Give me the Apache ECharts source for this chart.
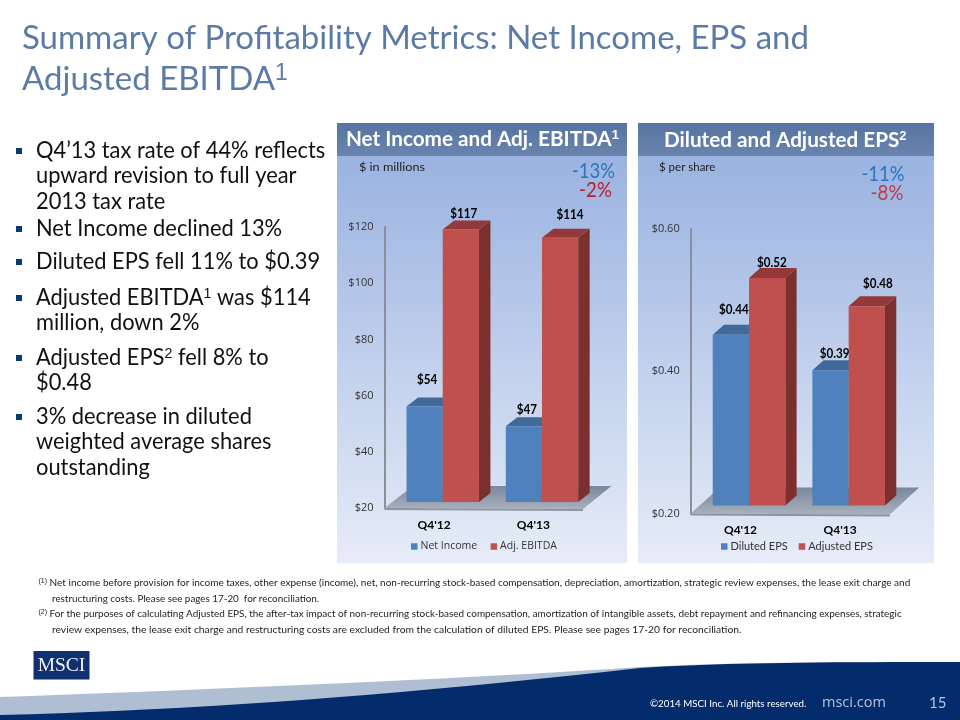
<!DOCTYPE html>
<html><head><meta charset="utf-8">
<style>html,body{margin:0;padding:0;background:#fff}#c{width:960px;height:720px}</style>
<script src="https://cdn.jsdelivr.net/npm/echarts@6/dist/echarts.min.js"></script>
</head><body><div id="c"></div>
<script>
// ---- data ----
const quarters = ["Q4'12", "Q4'13"];
const netIncome = [54, 47];
const adjEbitda = [117, 114];
const dilutedEps = [0.44, 0.39];
const adjustedEps = [0.52, 0.48];
const titleLines = ['Summary of Profitability Metrics: Net Income, EPS and', 'Adjusted EBITDA{s|1}'];
const bulletLines = [
  ['b', 151, 'Q4’13 tax rate of 44% reflects'], ['', 176, 'upward revision to full year'], ['', 202, '2013 tax rate'],
  ['b', 229, 'Net Income declined 13%'], ['b', 262, 'Diluted EPS fell 11% to $0.39'],
  ['b', 298, 'Adjusted EBITDA{s|1} was $114'], ['', 323, 'million, down 2%'],
  ['b', 358, 'Adjusted EPS{s|2} fell 8% to'], ['', 383, '$0.48'],
  ['b', 417, '3% decrease in diluted'], ['', 442, 'weighted average shares'], ['', 468, 'outstanding']
];
const footnotes = [
  [38.5, 583, 1, '{s|(1)} Net income before provision for income taxes, other expense (income), net, non-recurring stock-based compensation, depreciation, amortization, strategic review expenses, the lease exit charge and'],
  [52, 599, 0.985, 'restructuring costs. Please see pages 17-20  for reconciliation.'],
  [38.5, 614, 0.993, '{s|(2)} For the purposes of calculating Adjusted EPS, the after-tax impact of non-recurring stock-based compensation, amortization of intangible assets, debt repayment and refinancing expenses, strategic'],
  [52, 630, 1.03, 'review expenses, the lease exit charge and restructuring costs are excluded from the calculation of diluted EPS. Please see pages 17-20 for reconciliation.']
];
// ---- styles / layout ----
const BLUE = ['#4f81bd', '#3a6190', '#41699a'], RED = ['#c0504d', '#7c302e', '#94393a'];
const FONT = 'Lato';
const layouts = [
  {off: 8.6, w: 36.2, dx: 11.5, dy: -9, base: 6, fx: 28.5, fy: -22,
   labels: [[[2.5, -26], [3, -16]], [[3, -15], [10, -23]]]},
  {off: 8.5, w: 36.3, dx: 11.3, dy: -10, base: 8, fx: 29, fy: -26,
   labels: [[[3, -25], [4, -16]], [[4.6, -15], [11, -22]]]}
];
function barSeries(name, values, chart, colorSet, side, fmt) {
  const L = layouts[chart];
  return {
    type: 'custom', name, xAxisIndex: chart, yAxisIndex: chart,
    itemStyle: {color: colorSet[0]},
    data: values.map((v, i) => [i, v]), encode: {x: 0, y: 1},
    clip: false,
    renderItem(params, api) {
      const p = api.coord([api.value(0), api.value(1)]);
      const b = api.coord([api.value(0), chart === 0 ? 20 : 0.2]);
      const cs = params.coordSys;
      const x0 = p[0] + L.off + (side === 0 ? -L.w : 0), x1 = x0 + L.w;
      const yt = p[1] - L.base, yb = b[1] - L.base;
      const poly = (pts, fill) => ({type: 'polygon', shape: {points: pts}, style: {fill}});
      const kids = [];
      if (side === 0 && params.dataIndex === 0) {
        const g0 = b[1], lx = cs.x, rx = cs.x + cs.width;
        kids.push(poly([[lx, g0], [rx, g0 + 1], [rx + L.fx, g0 + L.fy], [lx + L.fx, g0 + L.fy]],
          new echarts.graphic.LinearGradient(0, 0, 0, 1, [{offset: 0, color: '#78889f'}, {offset: 1, color: '#aab0bb'}])));
        kids.push(poly([[lx, g0], [rx, g0 + 1], [rx, g0 + 3], [lx, g0 + 2]], '#8d93a0'));
      }
      kids.push(poly([[x1, yt], [x1 + L.dx, yt + L.dy], [x1 + L.dx, yb + L.dy], [x1, yb]], colorSet[1]));
      kids.push(poly([[x0, yt], [x0 + L.dx, yt + L.dy], [x1 + L.dx, yt + L.dy], [x1, yt]], colorSet[2]));
      kids.push({type: 'rect', shape: {x: x0, y: yt, width: L.w, height: yb - yt}, style: {fill: colorSet[0]}});
      const off = L.labels[side][params.dataIndex];
      kids.push({type: 'text', x: (x0 + x1) / 2 + off[0], y: yt + off[1], z2: 10, scaleX: 0.93,
        style: {text: fmt(api.value(1)), font: 'bold 12.5px ' + FONT, fill: '#000', textAlign: 'center', textVerticalAlign: 'middle'}});
      return {type: 'group', children: kids};
    }
  };
}
const T = (x, y, text, size, fill, extra) => Object.assign({
  type: 'text', x, y, z: 5,
  style: Object.assign({text, fontSize: size, fontFamily: FONT, fill, textAlign: 'left', textVerticalAlign: 'middle'}, (extra && extra.style) || {})
}, extra ? {scaleX: extra.scaleX || 1} : {});
const R = (x, y, w, h, fill) => ({type: 'rect', z: -10, shape: {x, y, width: w, height: h}, style: {fill}});
const panelFill = () => new echarts.graphic.LinearGradient(0, 0, 0, 1, [{offset: 0, color: '#94aedf'}, {offset: 1, color: '#e6ecf7'}]);
const headFill = () => new echarts.graphic.LinearGradient(0, 0, 0, 1, [{offset: 0, color: '#5674a2'}, {offset: 1, color: '#6a84ad'}]);
// decorative footer curves, sampled as cubic segments
function curve(segs) {
  const pts = [];
  segs.forEach(([a, b, c, d]) => {
    for (let t = 0; t <= 1.0001; t += 0.05) {
      const u = 1 - t;
      pts.push([0, 1].map(k => u*u*u*a[k] + 3*u*u*t*b[k] + 3*u*t*t*c[k] + t*t*t*d[k]));
    }
  });
  return pts.concat([[960, 720], [0, 720]]);
}
const gfx = [
  R(337, 123, 290, 440, panelFill()), R(638, 123, 296, 440, panelFill()),
  R(337, 123, 290, 33, headFill()), R(638, 123, 296, 33, headFill()),
  T(346, 139, 'Net Income and Adj. EBITDA{s|1}', 20.7, '#fff', {style: {fontWeight: 'bold', rich: {s: {fontSize: 13, fontWeight: 'bold', fill: '#fff', verticalAlign: 'top'}}}}),
  T(664, 140, 'Diluted and Adjusted EPS{s|2}', 20.7, '#fff', {style: {fontWeight: 'bold', rich: {s: {fontSize: 13, fontWeight: 'bold', fill: '#fff', verticalAlign: 'top'}}}}),
  T(359, 167, '$ in millions', 11.5, '#222', {scaleX: 1.1}), T(659, 167, '$ per share', 11.5, '#222'),
  T(593.5, 171, '-13%', 21, '#2a77bb', {scaleX: 0.88, style: {textAlign: 'center'}}), T(595.5, 190, '-2%', 21, '#b8212e', {scaleX: 0.89, style: {textAlign: 'center'}}),
  T(883, 174, '-11%', 21, '#2a77bb', {scaleX: 0.88, style: {textAlign: 'center'}}), T(887, 193, '-8%', 21, '#c03a45', {scaleX: 0.89, style: {textAlign: 'center'}}),
  // footer swoosh
  {type: 'polygon', z: -10, shape: {points: curve([[[0,697],[200,690],[480,678],[640,667]],[[640,667],[720,663],[800,662],[960,662]]])}, style: {fill: '#b0bed4'}},
  {type: 'polygon', z: -9, shape: {points: curve([[[0,715],[200,710],[400,695],[640,668]],[[640,668],[720,663],[800,662],[960,662]]])}, style: {fill: '#042c6c'}},
  R(33.5, 651, 56, 28.5, '#10316f'),
  T(61.5, 666, 'MSCI', 19.5, '#f2f4f8', {style: {fontFamily: 'Liberation Serif', textAlign: 'center'}}),
  T(650, 704, '©2014 MSCI Inc. All rights reserved.', 10, '#fff', {scaleX: 0.975}),
  T(822, 703, 'msci.com', 14.5, '#b6c4dc', {style: {fontFamily: 'Open Sans'}}),
  T(929, 703, '15', 15, '#b6c4dc')
];
titleLines.forEach((t, i) => gfx.push(T(22, 38 + i * 41, t, 33, '#5b7ba6', {style: {rich: {s: {fontSize: 23, fill: '#5b7ba6', verticalAlign: 'top'}}}})));
bulletLines.forEach(([b, y, t]) => {
  if (b) gfx.push({type: 'rect', z: 5, shape: {x: 16, y: y - 3, width: 6, height: 6}, style: {fill: '#0a3a70'}});
  gfx.push(T(36, y, t, 23, '#111', {scaleX: 0.95, style: {rich: {s: {fontSize: 15, fill: '#111', verticalAlign: 'top'}}}}));
});
footnotes.forEach(([x, y, s, t]) => gfx.push(T(x, y, t, 10, '#222', {scaleX: s, style: {rich: {s: {fontSize: 7, fill: '#222', verticalAlign: 'top'}}}})));

const axisLabel = {fontFamily: 'Open Sans', fontSize: 11, color: '#333', margin: 11};
const catAxis = (gi, margin) => ({
  type: 'category', gridIndex: gi, data: quarters,
  axisLine: {show: false}, axisTick: {show: false}, splitLine: {show: false},
  axisLabel: {fontFamily: FONT, fontSize: 12, fontWeight: 'bold', color: '#000', margin}
});
const valAxis = (gi, min, max, interval, fmt) => ({
  type: 'value', gridIndex: gi, min, max, interval, splitLine: {show: false},
  axisLine: {show: true, lineStyle: {color: '#8a8f98', width: 2}}, axisTick: {show: false},
  axisLabel: Object.assign({formatter: fmt}, axisLabel)
});
const chart = echarts.init(document.getElementById('c'), null, {renderer: 'canvas'});
chart.setOption({
  animation: false,
  grid: [
    {left: 384.5, top: 227, width: 198.5, height: 281},
    {left: 690.7, top: 229, width: 199.3, height: 284.5}
  ],
  xAxis: [catAxis(0, 11), catAxis(1, 11)],
  yAxis: [
    valAxis(0, 20, 120, 20, v => '$' + v),
    valAxis(1, 0.2, 0.6, 0.2, v => '$' + v.toFixed(2))
  ],
  legend: [
    {data: ['Net Income', 'Adj. EBITDA'], left: 406, top: 536, itemWidth: 6.5, itemHeight: 6.5, itemGap: 13.5, icon: 'rect',
     textStyle: {fontFamily: 'Open Sans', fontSize: 10.5, color: '#333', padding: [0, 0, 0, -2]}},
    {data: ['Diluted EPS', 'Adjusted EPS'], left: 716, top: 536, itemWidth: 6.5, itemHeight: 6.5, itemGap: 11, icon: 'rect',
     textStyle: {fontFamily: FONT, fontSize: 11, color: '#333', padding: [0, 0, 0, -2]}}
  ],
  graphic: {elements: gfx},
  series: [
    barSeries('Net Income', netIncome, 0, BLUE, 0, v => '$' + v),
    barSeries('Adj. EBITDA', adjEbitda, 0, RED, 1, v => '$' + v),
    barSeries('Diluted EPS', dilutedEps, 1, BLUE, 0, v => '$' + v.toFixed(2)),
    barSeries('Adjusted EPS', adjustedEps, 1, RED, 1, v => '$' + v.toFixed(2))
  ]
});
</script></body></html>
